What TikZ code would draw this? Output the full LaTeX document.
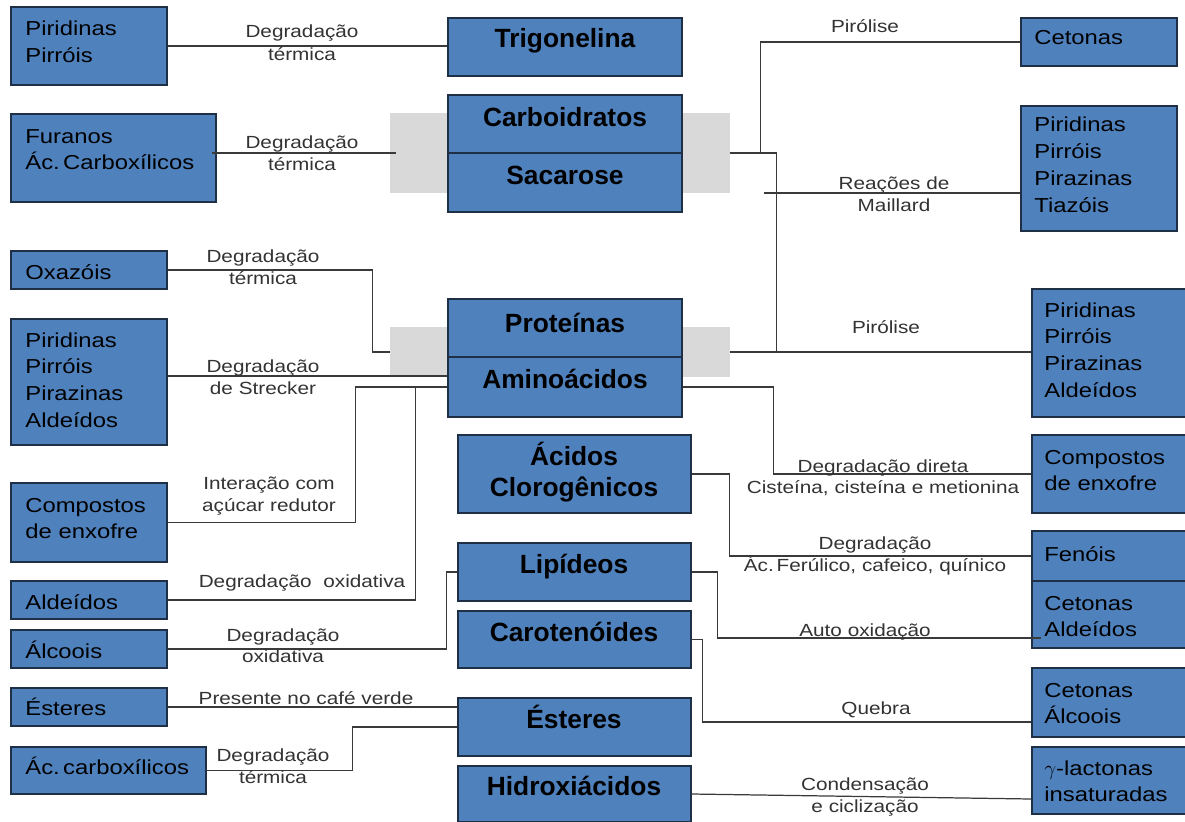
\documentclass[tikz,border=0pt]{standalone}
\usepackage{fontspec}
\setmainfont{Liberation Sans}[FakeStretch=1.18]
\newfontfamily\hdfont{Liberation Sans}
\usetikzlibrary{calc}
\definecolor{boxblue}{HTML}{4F81BD}
\definecolor{boxline}{HTML}{1F2F45}
\definecolor{greyband}{HTML}{D9D9D9}
\definecolor{linegray}{HTML}{3A3A3A}
\definecolor{labelgray}{HTML}{333333}
\newcommand\bx[5]{\node[box, minimum width={(#4-#2)*0.02cm}, minimum height={(#5-#3)*0.02cm}] (#1) at ({(#2+#4)/2},{(#3+#5)/2}) {};}
\newcommand\gb[5]{\node[band, minimum width={(#4-#2)*0.02cm}, minimum height={(#5-#3)*0.02cm}] (#1) at ({(#2+#4)/2},{(#3+#5)/2}) {};}
\tikzset{
  box/.style={draw=boxline, fill=boxblue, line width=0.8pt, inner sep=0pt, rectangle},
  band/.style={fill=greyband, draw=none, inner sep=0pt, rectangle},
  tx/.style={font=\fontsize{11.5}{15.3}\selectfont, text=black, anchor=base west, align=left, text width=5cm, inner sep=0pt},
  hd/.style={font=\hdfont\bfseries\fontsize{15}{18}\selectfont, text=black, anchor=base, align=center, text width=6cm, inner sep=0pt},
  lb/.style={font=\fontsize{10}{13}\selectfont, text=labelgray, anchor=base, align=center, text width=7cm, inner sep=0pt},
  conn/.style={draw=linegray, line width=0.7pt}
}
\begin{document}
\begin{tikzpicture}[x=0.02cm, y=-0.02cm]
\useasboundingbox (0,0) rectangle (1185,821);
\clip (0,0) rectangle (1185,821);
\fill[white] (0,0) rectangle (1185,821);
% grey bands
\gb{gc}{390}{113}{730}{193}
\gb{gp}{390}{327}{730}{377}
% left column
\bx{pp1}{11}{7}{167}{85}
\bx{fur}{11}{114}{216}{202}
\bx{oxa}{11}{251}{167}{289}
\bx{pl}{11}{319}{167}{445}
\bx{csl}{11}{483}{167}{562}
\bx{ald}{11}{581}{167}{619}
\bx{alc}{11}{630}{167}{668}
\bx{esl}{11}{688}{167}{726}
\bx{acb}{11}{747}{206}{794}
% middle column
\bx{trig}{448}{18}{682}{76}
\bx{carb}{448}{95}{682}{153}
\bx{sac}{448}{153}{682}{212}
\bx{prot}{448}{299}{682}{357}
\bx{amino}{448}{357}{682}{417}
\bx{acl}{458}{435}{691}{513}
\bx{lip}{458}{543}{691}{601}
\bx{car}{458}{611}{691}{668}
\bx{esm}{458}{698}{691}{756}
\bx{hid}{458}{766}{691}{822}
% right column
\bx{cet}{1021}{18}{1177}{66}
\bx{tia}{1021}{106}{1177}{231}
\bx{pr}{1032}{289}{1195}{417}
\bx{cse}{1032}{435}{1195}{513}
\bx{fen}{1032}{531}{1195}{581}
\bx{ca}{1032}{581}{1195}{648}
\bx{cal}{1032}{668}{1195}{737}
\bx{gl}{1032}{747}{1195}{814}
% box texts left
\node[tx] (t1) at (25,36) {Piridinas\\Pirróis};
\node[tx] (t2) at (25,143) {Furanos\\Ác.\,Carboxílicos};
\node[tx] (t3) at (25,279) {Oxazóis};
\node[tx] (t4) at (25,347) {Piridinas\\Pirróis\\Pirazinas\\Aldeídos};
\node[tx] (t5) at (25,512) {Compostos\\de enxofre};
\node[tx] (t6) at (25,609) {Aldeídos};
\node[tx] (t7) at (25,658) {Álcoois};
\node[tx] (t8) at (25,715) {Ésteres};
\node[tx] (t9) at (25,774) {Ác.\,carboxílicos};
% headers
\node[hd] (h1) at (565,48) {Trigonelina};
\node[hd] (h2) at (565,126) {Carboidratos};
\node[hd] (h3) at (565,184) {Sacarose};
\node[hd] (h4) at (565,332) {Proteínas};
\node[hd] (h5) at (565,388) {Aminoácidos};
\node[hd] (h6) at (574,465) {Ácidos\\Clorogênicos};
\node[hd] (h7) at (574,573) {Lipídeos};
\node[hd] (h8) at (574,641) {Carotenóides};
\node[hd] (h9) at (574,728) {Ésteres};
\node[hd] (h10) at (574,795) {Hidroxiácidos};
% right texts
\node[tx] (r1) at (1034,45) {Cetonas};
\node[tx] (r2) at (1034,132) {Piridinas\\Pirróis\\Pirazinas\\Tiazóis};
\node[tx] (r3) at (1044,317) {Piridinas\\Pirróis\\Pirazinas\\Aldeídos};
\node[tx] (r4) at (1044,464) {Compostos\\de enxofre};
\node[tx] (r5) at (1044,561) {Fenóis};
\node[tx] (r6) at (1044,610) {Cetonas\\Aldeídos};
\node[tx] (r7) at (1044,697) {Cetonas\\Álcoois};
\node[tx] (r8) at (1044,775) {$\gamma$-lactonas\\insaturadas};
% connectors
\draw[conn] (pp1.east) -- (pp1.east -| trig.west);
\draw[conn] ($(fur.east)+(-5,-5)$) -- ($(gc.west)+(6,0)$);
\draw[conn] (gc.east) -- ($(gc.east)+(46,0)$) coordinate (cv) -- (cv |- gp.east);
\draw[conn] ($(gc.east)+(30,0)$) |- (cet.west);
\coordinate (mai) at ($(gc.east)+(34,40)$);
\draw[conn] (mai) -- (mai -| tia.west);
\draw[conn] (gp.east) -- (gp.east -| pr.west);
\draw[conn] (amino.east) -- ++(91,0) |- (cse.west);
\draw[conn] (acl.east) -- ++(38,0) |- (fen.west);
\draw[conn] (lip.east) -- ++(26,0) |- ($(ca.west)+(10,23.5)$);
\draw[conn] (car.east) -- ++(11,0) |- ($(cal.west)+(0,19.5)$);
\draw[conn] (hid.east) -- ($(gl.west)+(0,18.5)$);
\draw[conn] (oxa.east) -| ($(gp.west)+(-17,0)$) -- (gp.west);
\draw[conn] ($(pl.east)+(0,-6)$) -- ($(amino.west)+(0,-11)$);
\draw[conn] (csl.east) -| ($(amino.west)+(-92,0)$) -- (amino.west);
\draw[conn] (ald.east) -| ($(amino.west)+(-32,0)$);
\draw[conn] (alc.east) -| ($(lip.west)+(-11,0)$) -- (lip.west);
\draw[conn] (esl.east) -- (esl.east -| esm.west);
\draw[conn] (acb.east) -| ($(esm.west)+(-105,0)$) -- (esm.west);
% labels
\node[lb] (l1) at (302,38) {Degradação\\térmica};
\node[lb] (l2) at (302,148) {Degradação\\térmica};
\node[lb] (l3) at (865,33) {Pirólise};
\node[lb] (l4) at (894,189) {Reações de\\Maillard};
\node[lb] (l5) at (263,262) {Degradação\\térmica};
\node[lb] (l6) at (263,372) {Degradação\\de Strecker};
\node[lb] (l7) at (269,489) {Interação com\\açúcar redutor};
\node[lb] (l8) at (886,333) {Pirólise};
\node[lb] (l9) at (883,472) {Degradação direta\\[-1pt]Cisteína, cisteína e metionina};
\node[lb] (l10) at (875,549) {Degradação\\[0pt]Ác.\,Ferúlico, cafeico, quínico};
\node[lb] (l11) at (302,587) {Degradação\ \ oxidativa};
\node[lb] (l12) at (283,641) {Degradação\\[-1pt]oxidativa};
\node[lb] (l13) at (306,704) {Presente no café verde};
\node[lb] (l14) at (273,761) {Degradação\\térmica};
\node[lb] (l15) at (865,636) {Auto oxidação};
\node[lb] (l16) at (876,714) {Quebra};
\node[lb] (l17) at (865,790) {Condensação\\e ciclização};
\end{tikzpicture}
\end{document}
